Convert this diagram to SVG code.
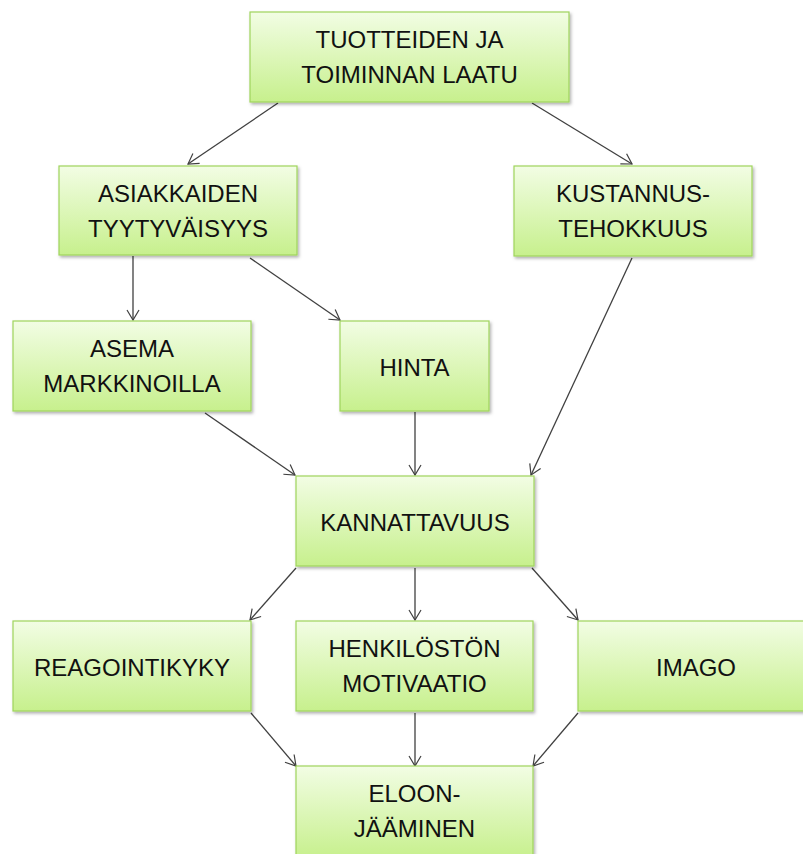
<svg xmlns="http://www.w3.org/2000/svg" width="803" height="854" viewBox="0 0 803 854">
<defs>
<linearGradient id="g" x1="0" y1="0" x2="0" y2="1">
<stop offset="0" stop-color="#f2fde4"/>
<stop offset="1" stop-color="#c7f08d"/>
</linearGradient>
<filter id="sh" x="-10%" y="-10%" width="120%" height="130%">
<feDropShadow dx="1.5" dy="2" stdDeviation="1.5" flood-color="#000" flood-opacity="0.3"/>
</filter>
<marker id="ah" markerWidth="14" markerHeight="14" refX="12" refY="7" orient="auto" markerUnits="userSpaceOnUse">
<path d="M2,1 L12,7 L2,13" fill="none" stroke="#404040" stroke-width="1.2"/>
</marker>
</defs>
<style>
.box{fill:url(#g);stroke:#9fd45c;stroke-width:1.2;filter:url(#sh)}
.t{font-family:"Liberation Sans",Arial,sans-serif;font-size:24px;fill:#111;text-anchor:middle}
.c{stroke:#404040;stroke-width:1.3;fill:none;marker-end:url(#ah)}
</style>
<rect width="803" height="854" fill="#fff"/>
<g id="connectors">
<line class="c" x1="278" y1="103" x2="188" y2="164"/>
<line class="c" x1="532" y1="103" x2="632" y2="164"/>
<line class="c" x1="133" y1="256" x2="133" y2="320"/>
<line class="c" x1="250" y1="258" x2="340" y2="320"/>
<line class="c" x1="205" y1="413" x2="295" y2="475"/>
<line class="c" x1="415" y1="412" x2="415" y2="475"/>
<line class="c" x1="632" y1="258" x2="531" y2="475"/>
<line class="c" x1="296" y1="568" x2="250" y2="620"/>
<line class="c" x1="415" y1="568" x2="415" y2="620"/>
<line class="c" x1="532" y1="568" x2="578" y2="620"/>
<line class="c" x1="251" y1="713" x2="296" y2="766"/>
<line class="c" x1="415" y1="713" x2="415" y2="766"/>
<line class="c" x1="578" y1="713" x2="533" y2="766"/>
</g>
<g id="tuotteiden">
<rect class="box" x="250" y="12" width="319" height="90"/>
<text class="t" x="409.5" y="48">TUOTTEIDEN JA</text>
<text class="t" x="409.5" y="83">TOIMINNAN LAATU</text>
</g>
<g id="asiakkaiden">
<rect class="box" x="59" y="166" width="238" height="89"/>
<text class="t" x="178" y="202">ASIAKKAIDEN</text>
<text class="t" x="178" y="237">TYYTYVÄISYYS</text>
</g>
<g id="kustannus">
<rect class="box" x="514" y="166" width="238" height="90"/>
<text class="t" x="633" y="202">KUSTANNUS-</text>
<text class="t" x="633" y="237">TEHOKKUUS</text>
</g>
<g id="asema">
<rect class="box" x="13" y="321" width="238" height="90"/>
<text class="t" x="132" y="357">ASEMA</text>
<text class="t" x="132" y="392">MARKKINOILLA</text>
</g>
<g id="hinta">
<rect class="box" x="340" y="321" width="149" height="90"/>
<text class="t" x="414.5" y="376">HINTA</text>
</g>
<g id="kannattavuus">
<rect class="box" x="296" y="476" width="238" height="90"/>
<text class="t" x="415" y="531">KANNATTAVUUS</text>
</g>
<g id="reagointikyky">
<rect class="box" x="13" y="621" width="238" height="90"/>
<text class="t" x="132" y="676">REAGOINTIKYKY</text>
</g>
<g id="henkiloston">
<rect class="box" x="296" y="621" width="237" height="90"/>
<text class="t" x="414.5" y="657">HENKILÖSTÖN</text>
<text class="t" x="414.5" y="692">MOTIVAATIO</text>
</g>
<g id="imago">
<rect class="box" x="578" y="621" width="238" height="90"/>
<text class="t" x="696" y="676">IMAGO</text>
</g>
<g id="eloon">
<rect class="box" x="296" y="766" width="237" height="92"/>
<text class="t" x="414.5" y="802">ELOON-</text>
<text class="t" x="414.5" y="837">JÄÄMINEN</text>
</g>
</svg>
